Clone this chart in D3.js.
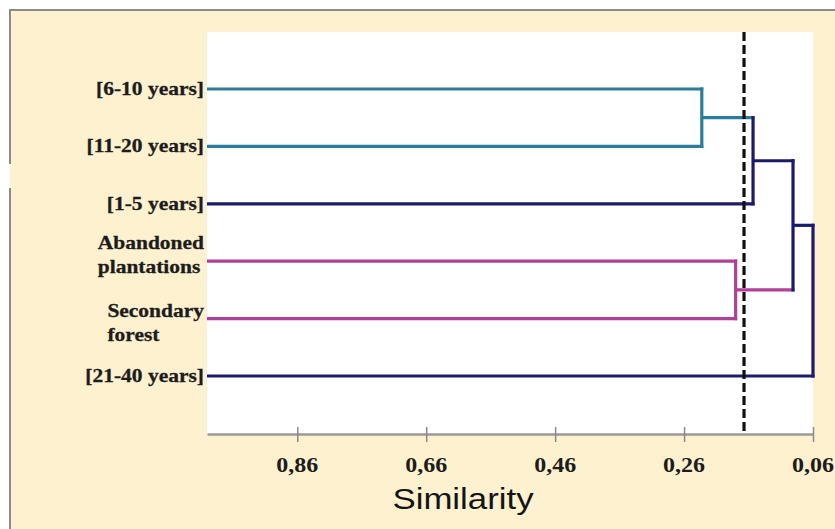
<!DOCTYPE html>
<html>
<head>
<meta charset="utf-8">
<script src="https://cdn.jsdelivr.net/npm/d3@7"></script>
<style>
  html, body { margin: 0; padding: 0; background: #ffffff; }
  svg { display: block; }
</style>
</head>
<body>
<svg id="chart" width="835" height="529"></svg>
<script>
// ---------- data ----------
const leafNames = ["[6-10 years]", "[11-20 years]", "[1-5 years]", "Abandoned plantations", "Secondary forest", "[21-40 years]"];
const leafLines = [["[6-10 years]"], ["[11-20 years]"], ["[1-5 years]"], ["Abandoned", "plantations"], ["Secondary", "forest"], ["[21-40 years]"]];
// merges: children, similarity level, cluster colour group
const mergeNames = ["D", "C", "B", "A", "root"];
const mergeChildren = [["[6-10 years]", "[11-20 years]"], ["Abandoned plantations", "Secondary forest"], ["D", "[1-5 years]"], ["B", "C"], ["A", "[21-40 years]"]];
const mergeLevels = [0.2325, 0.18, 0.153, 0.091, 0.06];
const mergeGroups = ["teal", "magenta", "navy", "navy", "navy"];
const cutLevel = 0.167;
const tickValues = [0.86, 0.66, 0.46, 0.26, 0.06];
const tickLabels = ["0,86", "0,66", "0,46", "0,26", "0,06"];
const axisTitle = "Similarity";
const leafLevel = 1.0;

// ---------- build tree ----------
const nodes = {};
leafNames.forEach(n => nodes[n] = { name: n, level: leafLevel });
mergeNames.forEach((n, i) => {
  nodes[n] = { name: n, level: mergeLevels[i], group: mergeGroups[i], children: mergeChildren[i].map(c => nodes[c]) };
});
const root = d3.hierarchy(nodes["root"]);

const colors = { teal: "#2b7d9c", magenta: "#b03f99", navy: "#1c1a6d" };

const svg = d3.select("#chart");
const W = 835, H = 529;

// frame
svg.append("rect").attr("x", 10).attr("y", 10).attr("width", W - 10).attr("height", H - 10).attr("fill", "#fef1cf");
svg.append("line").attr("x1", 9).attr("x2", W).attr("y1", 10).attr("y2", 10).attr("stroke", "#8a8a8a").attr("stroke-width", 2);
svg.append("line").attr("x1", 10).attr("x2", 10).attr("y1", 9).attr("y2", 164).attr("stroke", "#8a8a8a").attr("stroke-width", 2);
svg.append("line").attr("x1", 10).attr("x2", 10).attr("y1", 188).attr("y2", H).attr("stroke", "#8a8a8a").attr("stroke-width", 2);

// scales
const x = d3.scaleLinear().domain([1.0, 0.06]).range([207, 813]);
const y = d3.scalePoint().domain(leafNames).range([89, 376]);

// plot area
svg.append("rect").attr("x", 207).attr("y", 32).attr("width", 813 - 207).attr("height", 434 - 32).attr("fill", "#ffffff");

// compute node y positions
root.eachAfter(d => {
  if (!d.children) d.py = y(d.data.name);
  else d.py = (d.children[0].py + d.children[d.children.length - 1].py) / 2;
});
function nodeColor(d) {
  if (d.children) return colors[d.data.group];
  return colors[d.parent.data.group];
}

const g = svg.append("g");
// horizontal links
root.descendants().filter(d => d.parent).forEach(d => {
  g.append("line")
    .attr("x1", x(d.data.level)).attr("x2", x(d.parent.data.level) + 1.5)
    .attr("y1", d.py).attr("y2", d.py)
    .attr("stroke", nodeColor(d)).attr("stroke-width", 3.2);
});
// vertical links
root.descendants().filter(d => d.children).forEach(d => {
  const ys = d.children.map(c => c.py);
  g.append("line")
    .attr("x1", x(d.data.level)).attr("x2", x(d.data.level))
    .attr("y1", d3.min(ys) - 1.6).attr("y2", d3.max(ys) + 1.6)
    .attr("stroke", colors[d.data.group]).attr("stroke-width", 3.2);
});

// axis
const axis = d3.axisBottom(x).tickValues(tickValues).tickFormat((d, i) => tickLabels[i]).tickSize(0).tickPadding(0);
const ax = svg.append("g").attr("transform", "translate(0,434)").call(axis);
ax.select(".domain").attr("stroke", "#9a9a9a").attr("stroke-width", 2.5);
ax.selectAll(".tick text").remove();
ax.selectAll(".tick").append("line").attr("y1", -7).attr("y2", 8).attr("stroke", "#8a8a8a").attr("stroke-width", 1.5);

// tick labels (stretched horizontally as in the reference)
tickValues.forEach((v, i) => {
  svg.append("text")
    .attr("transform", `translate(${x(v)},472) scale(1.2,1)`)
    .attr("text-anchor", "middle")
    .attr("font-family", "'Liberation Serif', 'Times New Roman', serif")
    .attr("font-weight", "bold").attr("font-size", 20).attr("fill", "#1c1c1c")
    .text(tickLabels[i]);
});

// axis title
svg.append("text")
  .attr("transform", "translate(463,509) scale(1.16,1)")
  .attr("text-anchor", "middle")
  .attr("font-family", "'Liberation Sans', Arial, sans-serif")
  .attr("font-size", 30).attr("fill", "#141414")
  .text(axisTitle);

// dashed cut line
svg.append("line")
  .attr("x1", x(cutLevel)).attr("x2", x(cutLevel)).attr("y1", 32).attr("y2", 432)
  .attr("stroke", "#111").attr("stroke-width", 3.2).attr("stroke-dasharray", "9,4");

// leaf labels
const firstOffset = { "Abandoned plantations": -12, "Secondary forest": -2 };
const lineGap = 24;
const sx = 1.13;
leafNames.forEach((n, i) => {
  const lines = leafLines[i];
  const yy = y(n);
  const grp = svg.append("g");
  const texts = lines.map((t, j) => grp.append("text")
    .attr("font-family", "'Liberation Serif', 'Times New Roman', serif")
    .attr("font-weight", "bold").attr("font-size", 19).attr("fill", "#1c1c1c")
    .attr("stroke", "#1c1c1c").attr("stroke-width", 0.3)
    .text(t));
  const widths = texts.map(t => t.node().getComputedTextLength());
  const maxW = d3.max(widths);
  const right = 204;
  const start = lines.length === 1 ? 6 : firstOffset[n];
  texts.forEach((t, j) => {
    const left = right - maxW * sx;
    t.attr("transform", `translate(${left},${yy + start + j * lineGap}) scale(${sx},1)`);
  });
});
</script>
</body>
</html>
